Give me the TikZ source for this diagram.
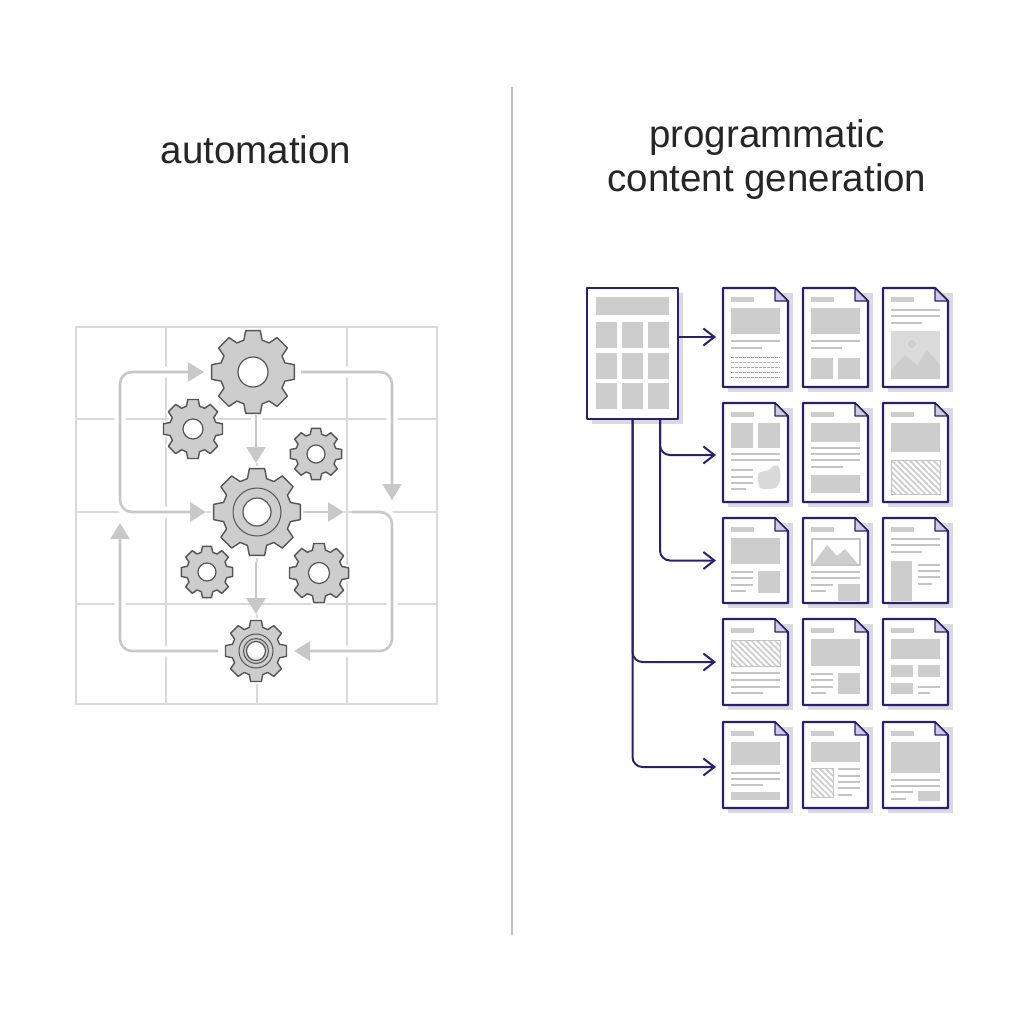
\documentclass[tikz,border=0pt]{standalone}
\usepackage{fontspec}
\usepackage{xcolor}
\setmainfont{Liberation Sans}
\usetikzlibrary{arrows.meta,patterns.meta}

\definecolor{inkblue}{HTML}{2B1F70}
\definecolor{foldblue}{HTML}{CCCCE0}
\definecolor{shadowgray}{HTML}{D9D9E0}
\definecolor{blockgray}{HTML}{CDCDCD}
\definecolor{linegray}{HTML}{C4C4C4}
\definecolor{flowgray}{HTML}{C8C8C8}
\definecolor{gridgray}{HTML}{D9D9D9}
\definecolor{gearedge}{HTML}{555555}

\newcommand{\gearwheel}[5]{
  \node[gearspot, minimum size=#4*2pt] (#1) at (#2,#3) {};
  \begin{scope}[shift={(#2,#3)}]
    \draw[gearbody] ({90-16}:#4*0.79)
      \foreach \a in {0,45,...,315} {
        -- ({90+\a-16}:#4*0.79) -- ({90+\a-10}:#4) -- ({90+\a+10}:#4) -- ({90+\a+16}:#4*0.79)
      } -- cycle;
    \draw[gearhole] (0,0) circle (#5);
  \end{scope}}
\newcommand{\gearring}[2]{\draw[gearring] (#1) circle (#2);}

\newcommand{\docpage}[4]{
  \node[docspot, minimum width=65pt, minimum height=#4pt] (#1) at (#2,#3) {};
  \fill[shadowgray] ([shift={(5pt,-5pt)}]#1.north west) rectangle ([shift={(5pt,-5pt)}]#1.south east);
  \draw[docedge] (#1.north west) -- ([xshift=-13pt]#1.north east) -- ([yshift=-13pt]#1.north east)
    -- (#1.south east) -- (#1.south west) -- cycle;
  \draw[docfold] ([xshift=-13pt]#1.north east) -- ([xshift=-13pt,yshift=-13pt]#1.north east)
    -- ([yshift=-13pt]#1.north east) -- cycle;
  \fill[blockgray] ([shift={(8pt,-9pt)}]#1.north west) rectangle ([shift={(31pt,-14pt)}]#1.north west);}
\newcommand{\blk}[4]{\fill[blockgray] (#1,#2) rectangle (#3,#4);}
\newcommand{\txt}[3]{\draw[txtline] (#1,#3) -- (#2,#3);}
\newcommand{\hatchbox}[4]{\draw[hatched] (#1,#2) rectangle (#3,#4);}

\begin{document}
\begin{tikzpicture}[x=1pt, y=-1pt,
  titletext/.style={font=\fontsize{38.5}{44}\selectfont, text=black!85, align=center},
  gridline/.style={draw=gridgray, line width=1.2pt},
  flow/.style={draw=flowgray, line width=2.6pt, rounded corners=12pt, -{Triangle[width=19pt,length=16pt]},
    preaction={draw=white, line width=11pt, -}},
  flowboth/.style={flow, {Triangle[width=19pt,length=16pt]}-{Triangle[width=19pt,length=16pt]}},
  gearspot/.style={circle, inner sep=0pt, outer sep=0pt},
  gearbody/.style={draw=gearedge, fill=blockgray, line width=1.4pt, line join=round, preaction={draw=white, line width=5pt}},
  gearhole/.style={draw=gearedge, fill=white, line width=1.2pt},
  gearring/.style={draw=gearedge, line width=1pt},
  docspot/.style={rectangle, anchor=north west, inner sep=0pt, outer sep=0pt},
  docedge/.style={draw=inkblue, fill=white, line width=2.1pt, line join=round},
  docfold/.style={draw=inkblue, fill=foldblue, line width=1.3pt, line join=round},
  link/.style={draw=inkblue, line width=2pt, rounded corners=10pt, shorten >=7pt, -{Straight Barb[length=11pt,width=17pt]}},
  txtline/.style={draw=linegray, line width=1.3pt},
  tinyline/.style={draw=black!35, line width=0.9pt, dash pattern=on 3pt off 1pt},
  hatched/.style={draw=linegray, line width=0.9pt, pattern={Lines[angle=-45,distance=4.2pt,line width=1.7pt]}, pattern color=black!20},
  divider/.style={draw=black!25, line width=1.2pt}]

  \path[use as bounding box, fill=white] (0,0) rectangle (1024,1024);

  \node[titletext] (autotitle) at (256,150) {automation};
  \node[titletext] (progtitle) at (767,160) {programmatic\\content generation};

  \coordinate (divtop) at (512,87);
  \coordinate (divbottom) at (512,935);
  \draw[divider] (divtop) -- (divbottom);

  \draw[gridline] (76,327) rectangle (437,704);
  \foreach \x in {166,257,347} \draw[gridline] (\x,327) -- (\x,704);
  \foreach \y in {419,512,604} \draw[gridline] (76,\y) -- (437,\y);

  \gearwheel{topgear}{253}{372}{42}{15}
  \gearwheel{smallnw}{193}{429}{30}{10}
  \gearwheel{smallne}{316}{454}{26}{9}
  \gearwheel{midgear}{257}{512}{44}{14}
  \gearring{midgear}{24}
  \gearwheel{smallsw}{207}{572}{26}{9}
  \gearwheel{smallse}{319}{573}{30}{10.5}
  \gearwheel{lowgear}{256}{651}{31}{9.5}
  \gearring{lowgear}{17}
  \gearring{lowgear}{12.5}

  \coordinate (leftbend) at (120,442);
  \coordinate (rightin) at (392,500);
  \coordinate (joinin) at (344,512);
  \coordinate (joinout) at (352,512);
  \coordinate (leftin) at (120,523);
  \coordinate (topright) at (301,372);
  \coordinate (midright) at (305,512);
  \coordinate (rightbend) at (392,600);
  \coordinate (lowright) at (294,651);
  \coordinate (lowleft) at (218,651);
  \coordinate (topleft) at (204,372);
  \coordinate (midleft) at (206,512);
  \coordinate (topdown) at (256,415);
  \coordinate (midin) at (256,463);
  \coordinate (middown) at (256,562);
  \coordinate (lowin) at (256,614);

  \draw[flowboth] (topleft) -| (leftbend) |- (midleft);
  \draw[flow] (topright) -| (rightin);
  \draw[flow] (midright) -- (joinin);
  \draw[flow] (joinout) -| (rightbend) |- (lowright);
  \draw[flow] (topdown) -- (midin);
  \draw[flow] (middown) -- (lowin);
  \draw[flow] (lowleft) -| (leftin);

  \node[docspot, minimum width=91pt, minimum height=131pt] (source) at (587,288) {};
  \fill[shadowgray] ([shift={(5pt,-5pt)}]source.north west) rectangle ([shift={(5pt,-5pt)}]source.south east);
  \draw[docedge] (source.north west) rectangle (source.south east);
  \blk{596}{297}{669}{315}
  \foreach \x in {596,622,648} {\foreach \y in {322,353,383} {\blk{\x}{\y}{\x+21}{\y+26}}}

  \docpage{d11}{723}{288}{99}
  \begin{scope}[shift={(723,288)}]
    \blk{8}{20}{57}{46} \txt{8}{57}{53} \txt{8}{39}{60}
    \foreach \y in {69,74,79,84,89} \draw[tinyline] (8,\y) -- (57,\y);
  \end{scope}
  \docpage{d12}{803}{288}{99}
  \begin{scope}[shift={(803,288)}]
    \blk{8}{20}{57}{46} \txt{8}{57}{53} \txt{8}{39}{60} \blk{8}{70}{30}{91} \blk{35}{70}{57}{91}
  \end{scope}
  \docpage{d13}{883}{288}{99}
  \begin{scope}[shift={(883,288)}]
    \txt{8}{57}{22} \txt{8}{57}{28} \txt{8}{39}{35}
    \fill[black!14] (8,43) rectangle (57,91);
    \fill[blockgray] (29,56) circle (4);
    \fill[blockgray] (8,82) -- (22,67) -- (34,77) -- (44,62) -- (57,77) -- (57,91) -- (8,91) -- cycle;
  \end{scope}

  \docpage{d21}{723}{403}{99}
  \begin{scope}[shift={(723,403)}]
    \blk{8}{20}{30}{45} \blk{35}{20}{57}{45} \txt{8}{57}{51} \txt{8}{57}{57}
    \txt{8}{30}{67} \txt{8}{30}{74} \txt{8}{30}{80} \txt{8}{23}{86}
    \fill[black!15] plot[smooth cycle] coordinates {(35,72) (38,69) (46,67) (50,63) (55,63) (57,68) (57,78) (52,85) (40,86) (36,83)};
  \end{scope}
  \docpage{d22}{803}{403}{99}
  \begin{scope}[shift={(803,403)}]
    \blk{8}{20}{57}{39} \txt{8}{57}{45} \txt{8}{57}{51} \txt{8}{57}{57} \txt{8}{40}{64} \blk{8}{72}{57}{90}
  \end{scope}
  \docpage{d23}{883}{403}{99}
  \begin{scope}[shift={(883,403)}]
    \blk{8}{20}{57}{49} \hatchbox{8}{57}{57}{91}
  \end{scope}

  \docpage{d31}{723}{518}{85}
  \begin{scope}[shift={(723,518)}]
    \blk{8}{20}{57}{46} \txt{8}{30}{54} \txt{8}{30}{60} \txt{8}{30}{67} \txt{8}{23}{73} \blk{35}{53}{57}{75}
  \end{scope}
  \docpage{d32}{803}{518}{85}
  \begin{scope}[shift={(803,518)}]
    \draw[linegray, line width=1.1pt] (9,21) rectangle (57,47);
    \fill[blockgray] (10,46) -- (24,27) -- (34,38) -- (42,31) -- (55,46) -- cycle;
    \txt{8}{57}{54} \txt{8}{57}{60} \txt{8}{30}{67} \txt{8}{23}{73} \blk{35}{66}{57}{83}
  \end{scope}
  \docpage{d33}{883}{518}{85}
  \begin{scope}[shift={(883,518)}]
    \txt{8}{57}{21} \txt{8}{57}{27} \txt{8}{39}{34} \blk{8}{43}{29}{83}
    \txt{35}{57}{47} \txt{35}{57}{53} \txt{35}{57}{59} \txt{35}{49}{66}
  \end{scope}

  \docpage{d41}{723}{619}{86}
  \begin{scope}[shift={(723,619)}]
    \hatchbox{8}{21}{57}{47} \txt{8}{57}{54} \txt{8}{57}{61} \txt{8}{57}{68} \txt{8}{40}{74}
  \end{scope}
  \docpage{d42}{803}{619}{86}
  \begin{scope}[shift={(803,619)}]
    \blk{8}{20}{57}{47} \txt{8}{30}{55} \txt{8}{30}{61} \txt{8}{30}{68} \txt{8}{23}{74} \blk{35}{54}{57}{75}
  \end{scope}
  \docpage{d43}{883}{619}{86}
  \begin{scope}[shift={(883,619)}]
    \blk{8}{20}{57}{40} \blk{8}{46}{30}{58} \blk{35}{46}{57}{58} \blk{8}{64}{30}{75} \txt{35}{57}{68} \txt{35}{47}{74}
  \end{scope}

  \docpage{d51}{723}{722}{86}
  \begin{scope}[shift={(723,722)}]
    \blk{8}{20}{57}{43} \txt{8}{57}{51} \txt{8}{57}{57} \txt{8}{40}{63} \blk{8}{70}{57}{78}
  \end{scope}
  \docpage{d52}{803}{722}{86}
  \begin{scope}[shift={(803,722)}]
    \blk{8}{20}{57}{40} \hatchbox{8}{46}{30}{75}
    \txt{35}{57}{47} \txt{35}{57}{54} \txt{35}{57}{60} \txt{35}{57}{66} \txt{35}{49}{73}
  \end{scope}
  \docpage{d53}{883}{722}{86}
  \begin{scope}[shift={(883,722)}]
    \blk{8}{20}{57}{51} \txt{8}{57}{58} \txt{8}{57}{64} \txt{8}{30}{70} \txt{8}{23}{77} \blk{35}{69}{57}{79}
  \end{scope}

  \draw[link] ([yshift=16.5pt]source.east) -- ([yshift=16.5pt]source.east -| d11.west);
  \draw[link] ([xshift=27.5pt]source.south) |- ([yshift=-2.5pt]d21.west);
  \draw[link] ([xshift=27.5pt]source.south) |- (d31.west);
  \draw[link] (source.south) |- (d41.west);
  \draw[link] (source.south) |- ([yshift=-2pt]d51.west);

\end{tikzpicture}
\end{document}
